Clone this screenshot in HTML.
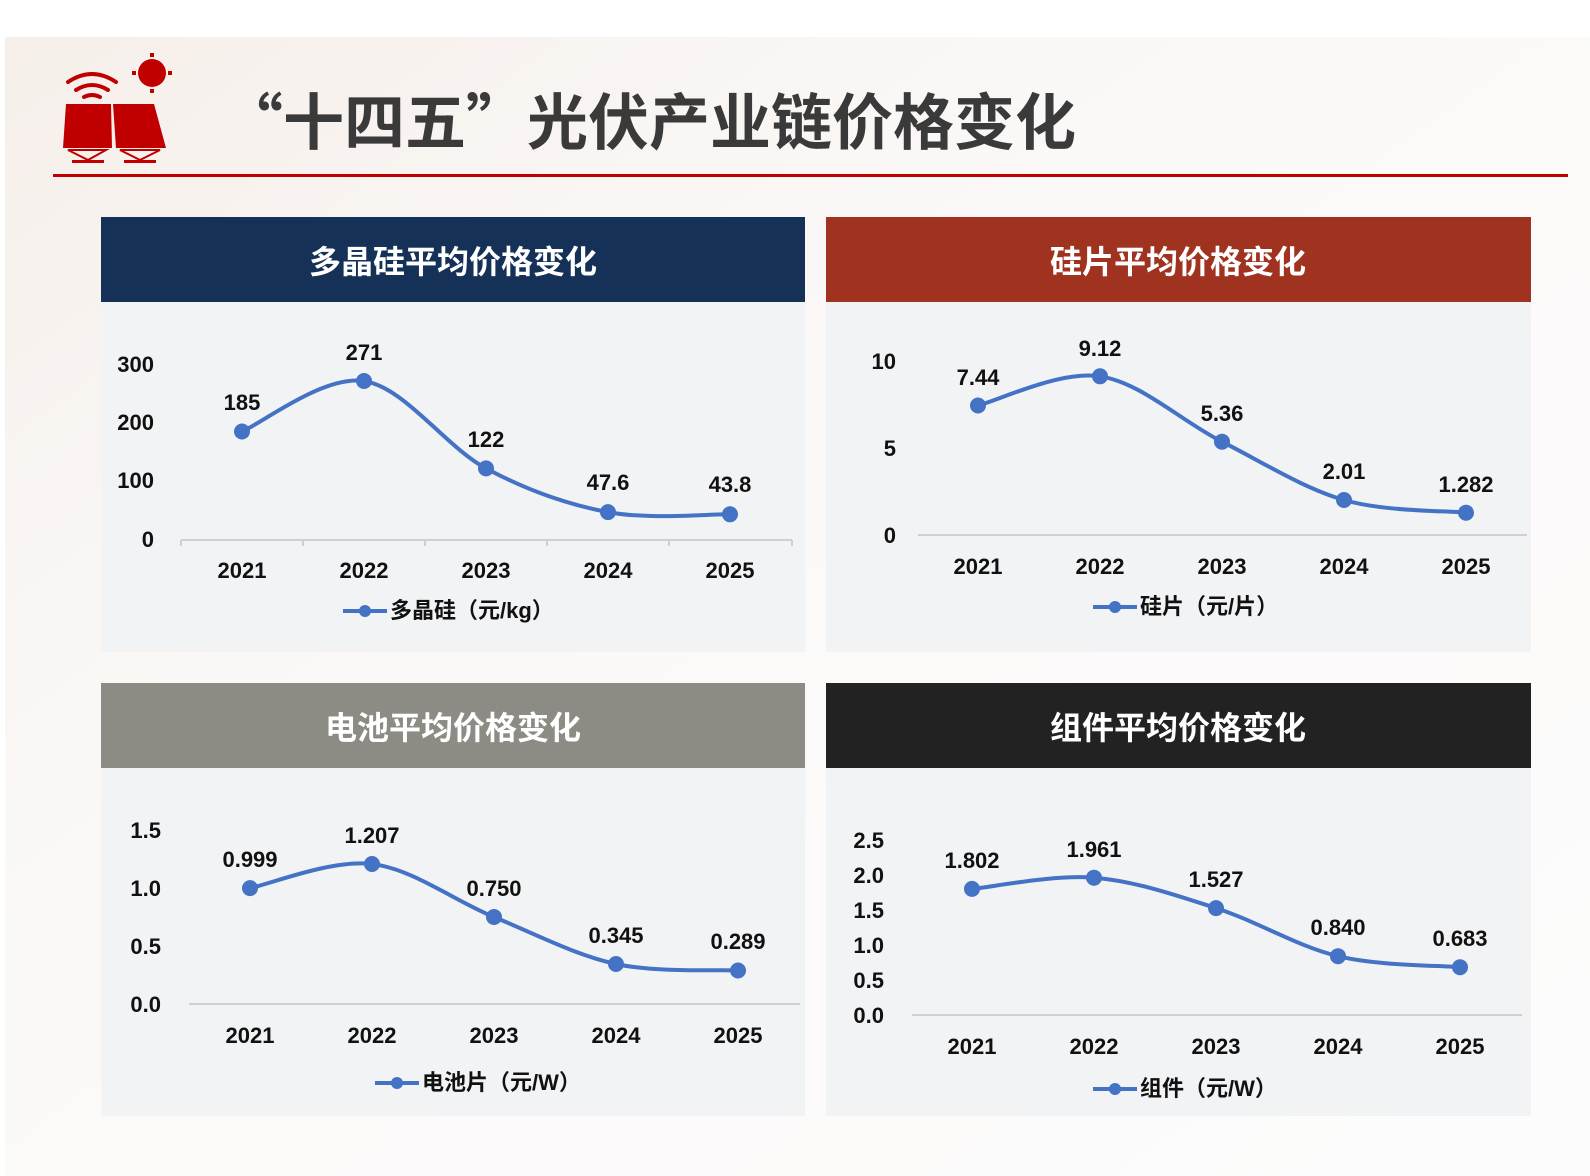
<!DOCTYPE html>
<html><head><meta charset="utf-8"><style>
html,body{margin:0;padding:0;background:#fff;}
svg{display:block;}
text{font-family:"Liberation Sans","Noto Sans CJK SC",sans-serif;font-weight:bold;}
</style></head><body>
<svg width="1590" height="1176" viewBox="0 0 1590 1176" xmlns="http://www.w3.org/2000/svg">
<defs>
<linearGradient id="bg" x1="0" y1="0" x2="1" y2="1">
<stop offset="0" stop-color="#f6efea"/><stop offset="0.4" stop-color="#fbf9f8"/><stop offset="1" stop-color="#fdfcfc"/>
</linearGradient>
</defs>
<rect x="0" y="0" width="1590" height="1176" fill="#fff"/>
<rect x="5" y="37" width="1585" height="1139" fill="url(#bg)"/>
<!-- logo -->
<g fill="#c00000">
<circle cx="152" cy="73" r="14"/>
<rect x="150" y="53" width="4" height="4"/><rect x="150" y="89" width="4" height="4"/>
<rect x="132" y="71" width="4" height="4"/><rect x="168" y="71" width="4" height="4"/>
<path d="M66 104 L111 104 L112 148 L63 148 Z"/>
<path d="M113 104 L154 104 L166 148 L116 148 Z"/>
<rect x="72" y="160" width="32" height="3"/><rect x="124" y="160" width="32" height="3"/>
<path d="M68 150 L106 150 L88 160 Z" fill="none" stroke="#c00000" stroke-width="2"/>
<path d="M120 150 L160 150 L140 160 Z" fill="none" stroke="#c00000" stroke-width="2"/>
</g>
<g fill="none" stroke="#c00000" stroke-width="4" stroke-linecap="round">
<path d="M68 82 Q92 66 116 82"/><path d="M76 90 Q92 80 108 90"/><path d="M84 97 Q92 93 100 97"/>
</g>
<text x="222" y="144" font-size="61" fill="#3a3a3a" style="font-family:'Noto Sans CJK SC',sans-serif">“十四五”光伏产业链价格变化</text>
<rect x="53" y="174" width="1515" height="3" fill="#c00000"/>

<!-- panels -->
<rect x="101" y="217" width="704" height="435" fill="#f2f3f5"/>
<rect x="101" y="217" width="704" height="85" fill="#163158"/>
<text x="453" y="273" font-size="32" fill="#fff" text-anchor="middle">多晶硅平均价格变化</text>
<rect x="826" y="217" width="705" height="435" fill="#f2f3f5"/>
<rect x="826" y="217" width="705" height="85" fill="#a03220"/>
<text x="1178" y="273" font-size="32" fill="#fff" text-anchor="middle">硅片平均价格变化</text>
<rect x="101" y="683" width="704" height="433" fill="#f2f3f5"/>
<rect x="101" y="683" width="704" height="85" fill="#8c8c84"/>
<text x="453" y="739" font-size="32" fill="#fff" text-anchor="middle">电池平均价格变化</text>
<rect x="826" y="683" width="705" height="433" fill="#f2f3f5"/>
<rect x="826" y="683" width="705" height="85" fill="#222222"/>
<text x="1178" y="739" font-size="32" fill="#fff" text-anchor="middle">组件平均价格变化</text>

<g font-size="22" fill="#111">
<!-- chart1 -->
<g text-anchor="end"><text x="154" y="372">300</text><text x="154" y="430">200</text><text x="154" y="488">100</text><text x="154" y="547">0</text></g>
<path d="M181 540 H792 M181 540 v6 M303 540 v6 M425 540 v6 M547 540 v6 M669 540 v6 M792 540 v6" stroke="#d0d0d0" stroke-width="2" fill="none"/>
<g text-anchor="middle"><text x="242" y="578">2021</text><text x="364" y="578">2022</text><text x="486" y="578">2023</text><text x="608" y="578">2024</text><text x="730" y="578">2025</text>
<text x="242" y="410">185</text><text x="364" y="360">271</text><text x="486" y="447">122</text><text x="608" y="490">47.6</text><text x="730" y="492">43.8</text></g>
<path d="M242 431.5 C262.3 423.1 323.3 374.9 364 381 C404.7 387.2 445.3 446.6 486 468.4 C526.7 490.2 567.3 504.5 608 512.1 C648.7 519.8 709.7 513.9 730 514.3" stroke="#4472c4" stroke-width="4" fill="none"/>
<g fill="#4472c4"><circle cx="242" cy="431.5" r="8"/><circle cx="364" cy="381" r="8"/><circle cx="486" cy="468.4" r="8"/><circle cx="608" cy="512.1" r="8"/><circle cx="730" cy="514.3" r="8"/></g>
<path d="M343 611 H387" stroke="#4472c4" stroke-width="4"/><circle cx="365" cy="611" r="6" fill="#4472c4"/>
<text x="390" y="618">多晶硅（元/kg）</text>

<!-- chart2 -->
<g text-anchor="end"><text x="896" y="369">10</text><text x="896" y="456">5</text><text x="896" y="543">0</text></g>
<path d="M918 535 H1527" stroke="#d0d0d0" stroke-width="2" fill="none"/>
<g text-anchor="middle"><text x="978" y="574">2021</text><text x="1100" y="574">2022</text><text x="1222" y="574">2023</text><text x="1344" y="574">2024</text><text x="1466" y="574">2025</text>
<text x="978" y="385">7.44</text><text x="1100" y="356">9.12</text><text x="1222" y="421">5.36</text><text x="1344" y="479">2.01</text><text x="1466" y="492">1.282</text></g>
<path d="M978 405.5 C998.3 400.6 1059.3 370.3 1100 376.3 C1140.7 382.3 1181.3 421.1 1222 441.7 C1262.7 462.3 1303.3 488.2 1344 500 C1384.7 511.8 1445.7 510.6 1466 512.7" stroke="#4472c4" stroke-width="4" fill="none"/>
<g fill="#4472c4"><circle cx="978" cy="405.5" r="8"/><circle cx="1100" cy="376.3" r="8"/><circle cx="1222" cy="441.7" r="8"/><circle cx="1344" cy="500" r="8"/><circle cx="1466" cy="512.7" r="8"/></g>
<path d="M1093 607 H1137" stroke="#4472c4" stroke-width="4"/><circle cx="1115" cy="607" r="6" fill="#4472c4"/>
<text x="1140" y="614">硅片（元/片）</text>

<!-- chart3 -->
<g text-anchor="end"><text x="161" y="838">1.5</text><text x="161" y="896">1.0</text><text x="161" y="954">0.5</text><text x="161" y="1012">0.0</text></g>
<path d="M189 1004 H800" stroke="#d0d0d0" stroke-width="2" fill="none"/>
<g text-anchor="middle"><text x="250" y="1043">2021</text><text x="372" y="1043">2022</text><text x="494" y="1043">2023</text><text x="616" y="1043">2024</text><text x="738" y="1043">2025</text>
<text x="250" y="867">0.999</text><text x="372" y="843">1.207</text><text x="494" y="896">0.750</text><text x="616" y="943">0.345</text><text x="738" y="949">0.289</text></g>
<path d="M250 888.1 C270.3 884.1 331.3 859.2 372 864 C412.7 868.8 453.3 900.3 494 917 C534.7 933.7 575.3 955.1 616 964 C656.7 972.9 717.7 969.4 738 970.5" stroke="#4472c4" stroke-width="4" fill="none"/>
<g fill="#4472c4"><circle cx="250" cy="888.1" r="8"/><circle cx="372" cy="864" r="8"/><circle cx="494" cy="917" r="8"/><circle cx="616" cy="964" r="8"/><circle cx="738" cy="970.5" r="8"/></g>
<path d="M375 1083 H419" stroke="#4472c4" stroke-width="4"/><circle cx="397" cy="1083" r="6" fill="#4472c4"/>
<text x="422" y="1090">电池片（元/W）</text>

<!-- chart4 -->
<g text-anchor="end"><text x="884" y="848">2.5</text><text x="884" y="883">2.0</text><text x="884" y="918">1.5</text><text x="884" y="953">1.0</text><text x="884" y="988">0.5</text><text x="884" y="1023">0.0</text></g>
<path d="M912 1015 H1522" stroke="#d0d0d0" stroke-width="2" fill="none"/>
<g text-anchor="middle"><text x="972" y="1054">2021</text><text x="1094" y="1054">2022</text><text x="1216" y="1054">2023</text><text x="1338" y="1054">2024</text><text x="1460" y="1054">2025</text>
<text x="972" y="868">1.802</text><text x="1094" y="857">1.961</text><text x="1216" y="887">1.527</text><text x="1338" y="935">0.840</text><text x="1460" y="946">0.683</text></g>
<path d="M972 888.9 C992.3 887 1053.3 874.5 1094 877.7 C1134.7 880.9 1175.3 895 1216 908.1 C1256.7 921.2 1297.3 946.4 1338 956.2 C1378.7 966 1439.7 965.4 1460 967.2" stroke="#4472c4" stroke-width="4" fill="none"/>
<g fill="#4472c4"><circle cx="972" cy="888.9" r="8"/><circle cx="1094" cy="877.7" r="8"/><circle cx="1216" cy="908.1" r="8"/><circle cx="1338" cy="956.2" r="8"/><circle cx="1460" cy="967.2" r="8"/></g>
<path d="M1093 1089 H1137" stroke="#4472c4" stroke-width="4"/><circle cx="1115" cy="1089" r="6" fill="#4472c4"/>
<text x="1140" y="1096">组件（元/W）</text>
</g>
</svg>
</body></html>
